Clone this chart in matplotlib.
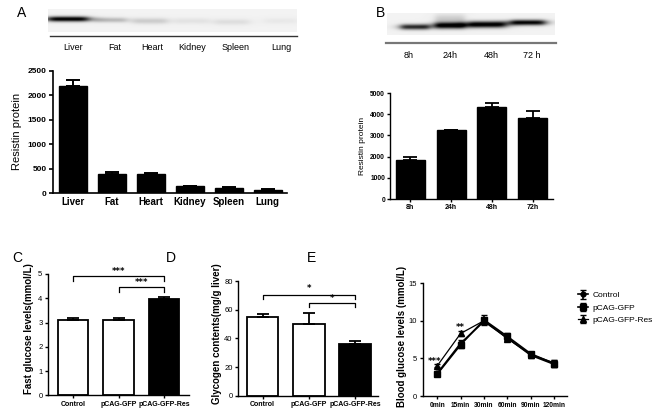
import numpy as np
import matplotlib
matplotlib.use('Agg')
import matplotlib.pyplot as plt

# ---------------- data ----------------
tissues = ['Liver', 'Fat', 'Heart', 'Kidney', 'Spleen', 'Lung']
tissue_resistin = [2180, 390, 385, 135, 110, 65]
tissue_err = [140, 30, 15, 15, 12, 10]
tissue_band = [1.0, 0.22, 0.15, 0.06, 0.08, 0.04]

times = ['8h', '24h', '48h', '72h']
time_blot_labels = ['8h', '24h', '48h', '72 h']
time_resistin = [1840, 3250, 4350, 3800]
time_err = [160, 20, 190, 360]
time_band = [0.8, 1.0, 1.0, 0.95]

groups = ['Control', 'pCAG-GFP', 'pCAG-GFP-Res']
fast_glucose = [3.12, 3.12, 3.97]
fast_glucose_err = [0.06, 0.08, 0.10]
glycogen = [55.2, 50.1, 36.4]
glycogen_err = [1.9, 7.5, 1.6]

ogtt_times = ['0min', '15min', '30min', '60min', '90min', '120min']
ogtt_control = [3.0, 7.0, 9.9, 7.7, 5.4, 4.2]
ogtt_control_err = [0.2, 0.4, 0.5, 0.3, 0.3, 0.4]
ogtt_gfp = [2.9, 6.8, 10.1, 7.9, 5.6, 4.3]
ogtt_gfp_err = [0.2, 0.4, 0.6, 0.4, 0.3, 0.5]
ogtt_res = [4.0, 8.3, 10.0, 7.6, 5.5, 4.4]
ogtt_res_err = [0.2, 0.3, 0.4, 0.3, 0.3, 0.4]

# ---------------- setup ----------------
W, H = 654, 415
fig = plt.figure(figsize=(W / 100, H / 100), dpi=100)
FONT = ['Liberation Sans', 'DejaVu Sans']


def px_axes(x0, y0, x1, y1):
    return fig.add_axes([x0 / W, 1 - y1 / H, (x1 - x0) / W, (y1 - y0) / H])


def ftext(x, y, s, **kw):
    kw.setdefault('ha', 'center')
    kw.setdefault('va', 'center')
    kw.setdefault('family', FONT)
    fig.text(x / W, 1 - y / H, s, **kw)


def fline(x0, x1, y, **kw):
    fig.add_artist(plt.Line2D([x0 / W, x1 / W], [1 - y / H, 1 - y / H],
                              transform=fig.transFigure, **kw))


def style(ax, lw=1.0):
    for s in ['top', 'right']:
        ax.spines[s].set_visible(False)
    for s in ['left', 'bottom']:
        ax.spines[s].set_linewidth(lw)
    ax.tick_params(direction='out', length=3, width=lw, pad=1.5)


def set_ticklabels_font(labels, size, weight='normal'):
    for t in labels:
        t.set_fontsize(size)
        t.set_fontweight(weight)
        t.set_family(FONT)


def blot(x0, y0, x1, y1, centers, ys, widths, heights, inten, bg=0.93, smear=None):
    ax = px_axes(x0, y0, x1, y1)
    nx, ny = int(x1 - x0) * 2, int(y1 - y0) * 2
    xx = np.linspace(x0, x1, nx)[None, :]
    yy = np.linspace(y0, y1, ny)[:, None]
    dark = np.zeros((ny, nx))
    for c, yc, w, h, a in zip(centers, ys, widths, heights, inten):
        prof_x = 1 / (1 + ((xx - c) / (w / 2)) ** 6)
        prof_y = np.exp(-((yy - yc) / h) ** 2)
        dark += a * prof_x * prof_y
    if smear is not None:
        c, yc, w, h, a = smear
        dark += a / (1 + ((xx - c) / (w / 2)) ** 8) * np.exp(-((yy - yc) / h) ** 2)
    img = np.clip(bg - dark, 0, 1)
    ax.imshow(img, cmap='gray', vmin=0, vmax=1, aspect='auto',
              extent=[x0, x1, y1, y0], interpolation='bilinear')
    ax.set_axis_off()
    return ax


# ---------------- Panel A ----------------
ftext(22, 13, 'A', fontsize=10)
blot(48, 9, 297, 32, [68, 110, 150, 192, 232, 281], [19, 20, 21, 21, 22, 21],
     [42, 34, 36, 36, 36, 34], [2.6, 2.5, 3, 3, 3, 3], tissue_band, bg=0.95)
fline(50, 297, 36.5, color='#333333', lw=1.0)
for xp, lab in zip([73, 115, 152, 192, 236, 281], tissues):
    ftext(xp, 47, lab, fontsize=6.5)

axA = px_axes(53, 70.7, 287, 193)
xa = np.arange(len(tissues))
axA.bar(xa, tissue_resistin, width=0.72, color='black', edgecolor='black')
axA.errorbar(xa, tissue_resistin, yerr=[np.zeros(len(xa)), tissue_err], fmt='none',
             ecolor='black', elinewidth=1.4, capsize=5, capthick=1.4)
axA.set_xlim(-0.52, 5.5)
axA.set_ylim(0, 2500)
axA.set_yticks([0, 500, 1000, 1500, 2000, 2500])
style(axA, 1.2)
axA.tick_params(axis='x', length=0, pad=3)
axA.set_xticks(xa)
axA.set_xticklabels(tissues)
set_ticklabels_font(axA.get_xticklabels(), 7, 'bold')
set_ticklabels_font(axA.get_yticklabels(), 6, 'bold')
axA.set_ylabel('Resistin protein', fontsize=8, family=FONT, labelpad=4)

# ---------------- Panel B ----------------
ftext(381, 13, 'B', fontsize=10)
blot(387, 13, 555, 35, [415, 450, 487, 528], [27, 25.5, 24.5, 22.5],
     [30, 32, 40, 36], [2.8, 3.3, 3.3, 2.8], time_band, bg=0.95,
     smear=(450, 19, 30, 5, 0.15))
fline(386, 556, 43.3, color='#777777', lw=1.6)
for xp, lab in zip([409, 450, 491, 532], time_blot_labels):
    ftext(xp, 55, lab, fontsize=6.5)

axB = px_axes(390, 93, 553, 199)
xb = np.arange(len(times))
axB.bar(xb, time_resistin, width=0.71, color='black', edgecolor='black')
axB.errorbar(xb, time_resistin, yerr=[np.zeros(len(xb)), time_err], fmt='none',
             ecolor='black', elinewidth=1.3, capsize=5, capthick=1.3)
axB.set_xlim(-0.5, 3.5)
axB.set_ylim(0, 5000)
axB.set_yticks([0, 1000, 2000, 3000, 4000, 5000])
style(axB, 1.0)
axB.tick_params(length=2)
axB.set_xticks(xb)
axB.set_xticklabels(times)
set_ticklabels_font(axB.get_xticklabels(), 5, 'bold')
set_ticklabels_font(axB.get_yticklabels(), 4.8, 'bold')
axB.set_ylabel('Resistin protein', fontsize=6, family=FONT, labelpad=3)


def bracket(ax, x0, x1, y, drop, label, dy):
    ax.plot([x0, x0, x1, x1], [y - drop, y, y, y - drop], color='black', lw=0.9,
            clip_on=False)
    ax.text((x0 + x1) / 2, y + dy, label, ha='center', va='center', fontsize=6,
            fontweight='bold', clip_on=False)


# ---------------- Panel C ----------------
ftext(17, 258, 'C', fontsize=10)
axC = px_axes(48, 274, 189, 395.3)
xc = np.arange(len(groups))
axC.bar(xc, fast_glucose, width=0.68, color=['white', 'white', 'black'],
        edgecolor='black', linewidth=1.3)
axC.errorbar(xc, fast_glucose, yerr=[np.zeros(3), fast_glucose_err], fmt='none',
             ecolor='black', elinewidth=1.3, capsize=4.5, capthick=1.3)
axC.set_xlim(-0.55, 2.55)
axC.set_ylim(0, 5)
axC.set_yticks([0, 1, 2, 3, 4, 5])
style(axC, 1.0)
axC.tick_params(length=2.5)
axC.set_xticks(xc)
axC.set_xticklabels(groups)
set_ticklabels_font(axC.get_xticklabels(), 5, 'bold')
set_ticklabels_font(axC.get_yticklabels(), 5.5)
axC.set_ylabel('Fast glucose levels(mmol/L)', fontsize=7, fontweight='bold',
               family=FONT)
axC.yaxis.set_label_coords(-0.1, 0.55)
bracket(axC, 0, 2, 4.9, 0.2, '***', 0.2)
bracket(axC, 1, 2, 4.46, 0.2, '***', 0.2)

# ---------------- Panel D ----------------
ftext(171, 258, 'D', fontsize=10)
axD = px_axes(238.3, 281, 378, 395.7)
axD.bar(xc, glycogen, width=0.68, color=['white', 'white', 'black'],
        edgecolor='black', linewidth=1.3)
axD.errorbar(xc, glycogen, yerr=[np.zeros(3), glycogen_err], fmt='none',
             ecolor='black', elinewidth=1.3, capsize=4.5, capthick=1.3)
axD.set_xlim(-0.53, 2.5)
axD.set_ylim(0, 80)
axD.set_yticks([0, 20, 40, 60, 80])
style(axD, 1.0)
axD.tick_params(length=2.5)
axD.set_xticks(xc)
axD.set_xticklabels(groups)
set_ticklabels_font(axD.get_xticklabels(), 5, 'bold')
set_ticklabels_font(axD.get_yticklabels(), 5.5)
axD.set_ylabel('Glycogen contents(mg/g liver)', fontsize=7, fontweight='bold',
               family=FONT)
axD.yaxis.set_label_coords(-0.12, 0.54)
bracket(axD, 0, 2, 70, 2.4, '*', 4.5)
bracket(axD, 1, 2, 65, 3.0, '*', 3.0)

# ---------------- Panel E ----------------
ftext(312, 258, 'E', fontsize=10)
axE = px_axes(422.7, 283, 566.7, 396)
xe = np.arange(len(ogtt_times))
axE.errorbar(xe, ogtt_control, yerr=ogtt_control_err, color='black', marker='o',
             ms=3.5, lw=1.2, capsize=2.5, label='Control')
axE.errorbar(xe, ogtt_gfp, yerr=ogtt_gfp_err, color='black', marker='s',
             ms=4, lw=1.2, capsize=2.5, label='pCAG-GFP')
axE.errorbar(xe, ogtt_res, yerr=ogtt_res_err, color='black', marker='^',
             ms=4, lw=0.9, capsize=2.5, label='pCAG-GFP-Res')
axE.set_xlim(-0.62, 5.53)
axE.set_ylim(0, 15)
axE.set_yticks([0, 5, 10, 15])
style(axE, 1.0)
axE.tick_params(length=2.5)
axE.set_xticks(xe)
axE.set_xticklabels(ogtt_times)
set_ticklabels_font(axE.get_xticklabels(), 4.8, 'bold')
set_ticklabels_font(axE.get_yticklabels(), 5.5)
axE.set_ylabel('Blood glucose levels (mmol/L)', fontsize=7, fontweight='bold',
               family=FONT)
axE.yaxis.set_label_coords(-0.11, 0.53)
axE.text(-0.12, 4.6, '***', ha='center', va='center', fontsize=6, fontweight='bold')
axE.text(0.97, 9.1, '**', ha='center', va='center', fontsize=6, fontweight='bold')
axE.legend(loc='upper left', bbox_to_anchor=(570 / W, 1 - 284 / H),
           bbox_transform=fig.transFigure, frameon=False,
           handlelength=1.2, handletextpad=0.6, labelspacing=0.55,
           prop={'family': FONT, 'size': 6})

fig.savefig('out.png', dpi=100)
